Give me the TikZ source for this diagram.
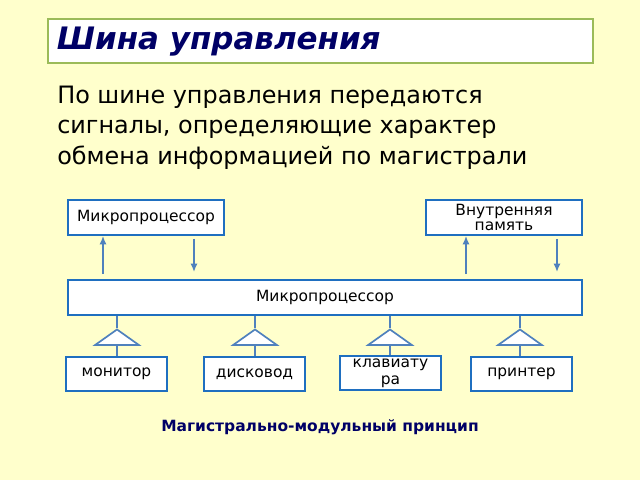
\documentclass[tikz,border=0pt]{standalone}
\usepackage{fontspec}
\setmainfont{DejaVu Sans}
\usetikzlibrary{shapes.geometric}
\usetikzlibrary{arrows.meta}
\definecolor{bg}{HTML}{FFFFCC}
\definecolor{titlec}{HTML}{000066}
\definecolor{boxc}{HTML}{1F6FC0}
\definecolor{arrc}{HTML}{4F81BD}
\definecolor{greenc}{HTML}{9BBB59}
\tikzset{
  blk/.style={draw=boxc, line width=1.2pt, fill=white, inner sep=1pt, font=\fontsize{11}{12}\selectfont, align=center},
  tri/.style={draw=arrc, line width=1.2pt, fill=white, isosceles triangle, shape border rotate=90, isosceles triangle apex angle=112, isosceles triangle stretches, minimum width=31pt, minimum height=11pt, inner sep=0pt},
  lnk/.style={draw=arrc, line width=1.3pt},
  arr/.style={lnk, -{Latex[length=6pt,width=5pt]}}
}
\begin{document}
\begin{tikzpicture}[x=0.025cm, y=-0.025cm]
        \fill[bg] (0,0) rectangle (640,480);
        \node[draw=greenc, line width=1.5pt, fill=white, minimum width=545*0.025cm, minimum height=44*0.025cm, anchor=north west, inner sep=0pt] (T) at (47,18) {};
        \node[anchor=west, text=titlec, font=\fontsize{22}{24}\selectfont\bfseries\itshape] (title) at (52,42) {Шина управления};
        \node[anchor=north west, align=left, font=\fontsize{17}{21.5}\selectfont, inner sep=0pt] (txt) at (57,86) {По шине управления передаются\\сигналы, определяющие характер\\обмена информацией по магистрали};

        \node[blk, minimum width=156*0.025cm, minimum height=35*0.025cm] (cpu) at (146,217.5) {Микропроцессор};
        \node[blk, minimum width=156*0.025cm, minimum height=35*0.025cm] (mem) at (504,217.5) {Внутренняя\\[-1pt]память};
        \node[blk, minimum width=514*0.025cm, minimum height=35*0.025cm] (bus) at (325,297.5) {Микропроцессор};

        \node[blk, minimum width=101*0.025cm, minimum height=34*0.025cm] (mon) at (116.5,374) {монитор};
        \node[blk, minimum width=101*0.025cm, minimum height=34*0.025cm] (disk) at (254.5,374) {дисковод};
        \node[blk, minimum width=101*0.025cm, minimum height=34*0.025cm] (kbd) at (390.5,373) {клавиату\\ра};
        \node[blk, minimum width=101*0.025cm, minimum height=34*0.025cm] (prn) at (521.5,374) {принтер};

        \foreach \d/\x in {mon/117, disk/255, kbd/390, prn/520} {
          \node[tri] (t\d) at (\x,338) {};
          \draw[lnk] (bus.south -| \x,0) -- (t\d.apex);
          \draw[lnk] (t\d.south) -- (\d.north -| \x,0);
        }

        \draw[arr] (bus.north -| 103,0) ++(0,-5) -- (cpu.south -| 103,0);
        \draw[arr] (cpu.south -| 194,0) ++(0,3) -- ([yshift=5]bus.north -| 194,0);
        \draw[arr] (bus.north -| 466,0) ++(0,-5) -- (mem.south -| 466,0);
        \draw[arr] (mem.south -| 557,0) ++(0,3) -- ([yshift=5]bus.north -| 557,0);

        \node[text=titlec, font=\fontsize{11}{12}\selectfont\bfseries] (cap) at (320,427) {Магистрально-модульный принцип};
\end{tikzpicture}
\end{document}
